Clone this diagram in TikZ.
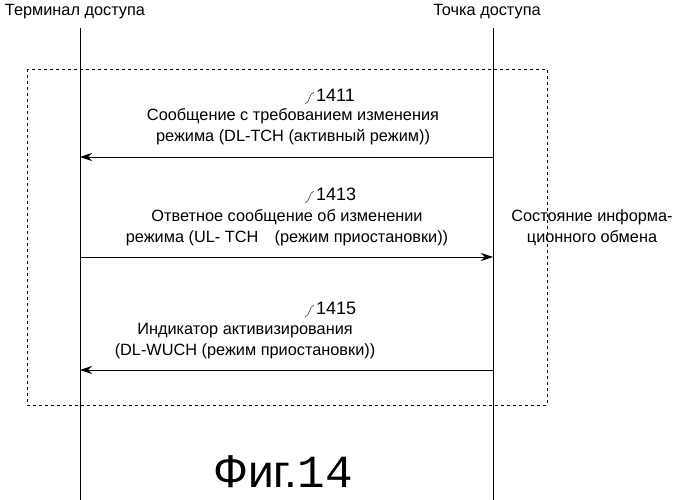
\documentclass[tikz,border=0pt]{standalone}
\usepackage{fontspec}
\usetikzlibrary{arrows.meta}
\setmainfont{Liberation Sans}
\newfontfamily\monofig{Liberation Mono}
\begin{document}
\begin{tikzpicture}[x=1pt,y=-1pt,
  lbl/.style={font=\fontsize{16.3}{21}\selectfont,align=center,inner sep=0},
  msg/.style={-{Stealth[length=12pt,width=8pt]},line width=0.9pt},
  tag/.style={font=\fontsize{18}{20}\selectfont,inner sep=0,anchor=west}]
\useasboundingbox (0,0) rectangle (678,500);
\node[lbl] (ta) at (75,12) {Терминал доступа};
\node[lbl] (ap) at (487,12) {Точка доступа};
\coordinate (ltop) at (80,28); \coordinate (lbot) at (80,500);
\coordinate (rtop) at (493,28); \coordinate (rbot) at (493,500);
\draw[line width=0.8pt] (ltop) -- (lbot);
\draw[line width=0.8pt] (rtop) -- (rbot);
\draw[dashed,line width=0.5pt] (27,69) rectangle (547,405);
\node[lbl] (st) at (592,228) {Состояние информа-\\ционного обмена};
% message 1
\coordinate (a1) at (493,157); \coordinate (b1) at (80,157);
\draw[msg] (a1) -- (b1);
\node[lbl] (m1) at (293,127) {Сообщение с требованием изменения\\режима (DL-TCH (активный режим))};
\draw (305,104) .. controls (310,103) and (309,93) .. (314,92);
\node[tag] (t1) at (316,95) {1411};
% message 2
\coordinate (a2) at (80,257); \coordinate (b2) at (493,257);
\draw[msg] (a2) -- (b2);
\node[lbl] (m2) at (287,228) {Ответное сообщение об изменении\\режима (UL- TCH\quad(режим приостановки))};
\draw (305,203) .. controls (310,202) and (309,192) .. (314,191);
\node[tag] (t2) at (316,194) {1413};
% message 3
\coordinate (a3) at (493,370); \coordinate (b3) at (80,370);
\draw[msg] (a3) -- (b3);
\node[lbl] (m3) at (245,341) {Индикатор активизирования\\(DL-WUCH (режим приостановки))};
\draw (305,317) .. controls (310,316) and (309,306) .. (314,305);
\node[tag] (t3) at (316,308) {1415};
\node[inner sep=0] (fig) at (283,472) {\fontsize{46}{50}\selectfont Фиг.{\monofig 14}};
\end{tikzpicture}
\end{document}
